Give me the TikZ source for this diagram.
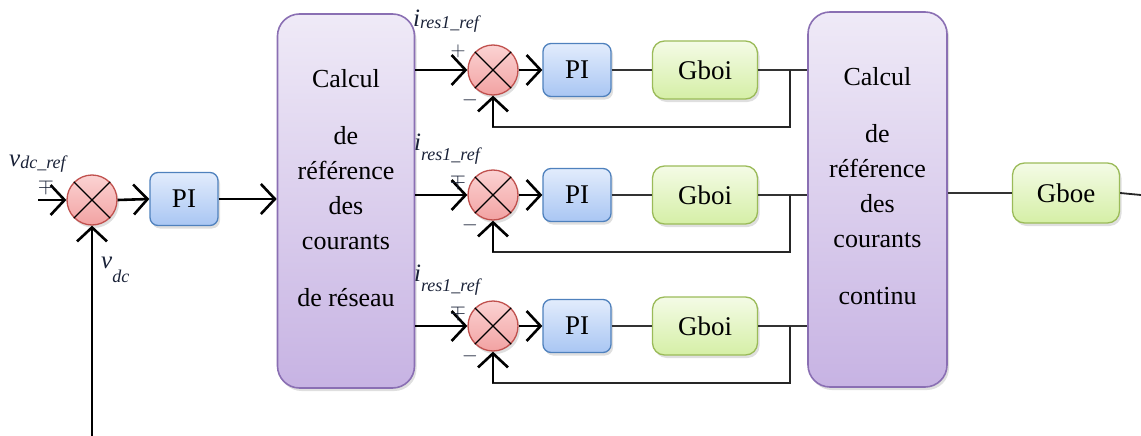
\documentclass[tikz,border=0pt]{standalone}
\usepackage{fontspec}
\setmainfont{Liberation Serif}
\usetikzlibrary{arrows.meta,shadows}
\definecolor{lbl}{HTML}{1A2238}
\definecolor{sumtop}{HTML}{FBD3D3}
\definecolor{sumbot}{HTML}{F2A2A2}
\definecolor{sumdraw}{HTML}{C0504D}
\definecolor{pitop}{HTML}{E2ECFC}
\definecolor{pibot}{HTML}{A9C6F3}
\definecolor{pidraw}{HTML}{4F81BD}
\definecolor{gtop}{HTML}{F4FBE6}
\definecolor{gbot}{HTML}{D5EFA6}
\definecolor{gdraw}{HTML}{9BBB59}
\definecolor{btop}{HTML}{EFEAF7}
\definecolor{bbot}{HTML}{C7B3E3}
\definecolor{bdraw}{HTML}{8A6FB3}
\tikzset{
  x=1pt, y=-1pt,
  sh/.style={drop shadow={shadow xshift=2pt, shadow yshift=-3pt, opacity=0.25, fill=gray}},
  sumnode/.style={circle, minimum size=50pt, inner sep=0pt, draw=sumdraw, line width=1.3pt,
    top color=sumtop, bottom color=sumbot, sh},
  piblk/.style={rectangle, rounded corners=8pt, minimum width=68pt, minimum height=53pt, draw=pidraw,
    line width=1.3pt, top color=pitop, bottom color=pibot, font=\fontsize{27}{30}\selectfont, sh},
  gblk/.style={rectangle, rounded corners=12pt, minimum width=105pt, minimum height=58pt, draw=gdraw,
    line width=1.3pt, top color=gtop, bottom color=gbot, font=\fontsize{27}{30}\selectfont, sh},
  bigblk/.style={rectangle, rounded corners=22pt, draw=bdraw, line width=1.6pt,
    top color=btop, bottom color=bbot, sh},
  boxtxt/.style={align=center, font=\fontsize{26}{35}\selectfont},
  thk/.style={line width=2.6pt, -{Straight Barb[length=14pt,width=30pt,line width=2.6pt]}},
  fbk/.style={line width=1.8pt, black!85},
  thn/.style={line width=1.2pt, black!80},
  lab/.style={text=lbl, inner sep=0pt},
  mainlet/.style={font=\fontsize{25}{25}\selectfont\itshape},
}
\newcommand{\subtxt}[1]{{\fontsize{18}{18}\selectfont #1}}
\begin{document}
\begin{tikzpicture}
\useasboundingbox (0,0) rectangle (1141,436);

% outer DC voltage loop
\node[sumnode] (s0) at (92,200) {};
\node[piblk] (pi0) at (184,199) {PI};
\node[bigblk, minimum width=137pt, minimum height=374pt] (b1) at (346,201) {};
\node[boxtxt] (b1t) at (346,188) {Calcul\\[22pt]de\\référence\\des\\courants\\[22pt]de réseau};

\coordinate (vin) at (38,200);
\coordinate (vmeas) at (92,436);
\draw[thk] (vin) -- (s0.west);
\draw[thk] (vmeas) -- (s0.south);
\draw[thk] (s0.east) -- (pi0.west);
\draw[thk] (pi0.east) -- (b1.west |- pi0.east);

\node[lab, mainlet, anchor=base west] (lvref) at (9,166) {v\raisebox{-2pt}{\subtxt{dc\_ref}}};
\node[lab] (pvref) at (46,186) {\fontsize{20}{20}\selectfont$\mp$};
\node[lab, mainlet, anchor=base west] (lvdc) at (101,268) {v\raisebox{-14pt}{\subtxt{dc}}};

% second block
\node[bigblk, minimum width=139pt, minimum height=375pt] (b2) at (877.5,199.5) {};
\node[boxtxt] (b2t) at (877.5,186) {Calcul\\[22pt]de\\référence\\des\\courants\\[22pt]continu};
\node[gblk, minimum width=107pt, minimum height=60pt] (ge) at (1066,193) {Gboe};
\coordinate (gout) at (1141,195);
\draw[thn] (b2.east |- ge.west) -- (ge.west);
\draw[line width=1.8pt, black!85] (ge.east) -- (gout);

% three current loops
\foreach \r/\yy in {1/70, 2/195, 3/326}{
  \node[sumnode] (s\r) at (493,\yy) {};
  \node[piblk] (pi\r) at (577,\yy) {PI};
  \node[gblk] (g\r) at (705,\yy) {Gboi};
  \coordinate (br\r) at (790,\yy);
  \coordinate (fb\r) at (790,\yy+57);
  \draw[thk] (b1.east |- s\r.west) -- (s\r.west);
  \draw[thk] (s\r.east) -- (pi\r.west);
  \draw[thn] (pi\r.east) -- (g\r.west);
  \draw[thn] (g\r.east) -- (b2.west |- g\r.east);
  \draw[fbk] (br\r) -- (fb\r) -- (fb\r -| s\r) -- ++(0,-10);
  \draw[thk] (fb\r -| s\r) -- (s\r.south);
  \node[lab] (m\r) at (470,\yy+30) {\fontsize{20}{20}\selectfont$-$};
}
\foreach \r in {0,1,2,3}{
  \draw[line width=1.1pt] (s\r.45) -- (s\r.225) (s\r.135) -- (s\r.315);
}

\node[lab, mainlet, anchor=base west] (li1) at (413,27) {i\raisebox{-2pt}{\subtxt{res1\_ref}}};
\node[lab, mainlet, anchor=base west] (li2) at (414,150) {i\raisebox{-10pt}{\subtxt{res1\_ref}}};
\node[lab, mainlet, anchor=base west] (li3) at (414,281) {i\raisebox{-10pt}{\subtxt{res1\_ref}}};
\node[lab] (p1) at (458,51) {\fontsize{20}{20}\selectfont$+$};
\node[lab] (p2) at (458,181) {\fontsize{20}{20}\selectfont$\mp$};
\node[lab] (p3) at (458,312) {\fontsize{20}{20}\selectfont$\mp$};
\end{tikzpicture}
\end{document}
